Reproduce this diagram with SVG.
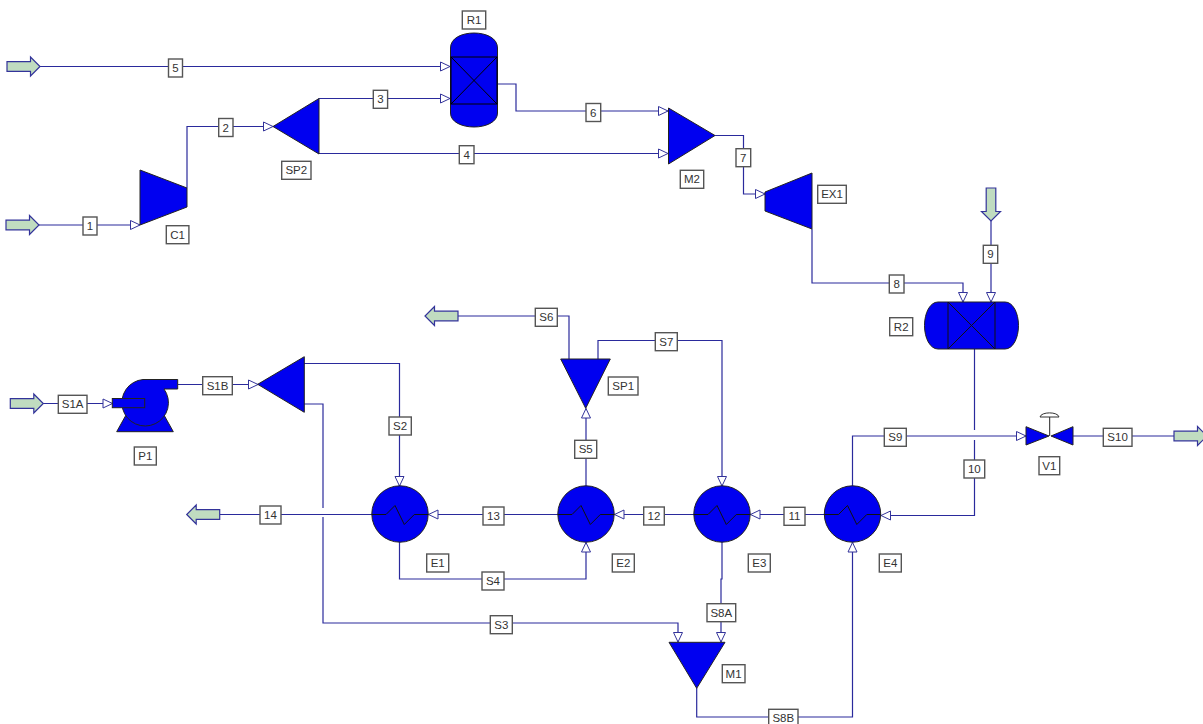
<svg xmlns="http://www.w3.org/2000/svg" width="1203" height="724" viewBox="0 0 1203 724">
<style>
text{font-family:"Liberation Sans",Arial,sans-serif;font-size:11.5px;fill:#333;text-anchor:middle}
.c path{fill:none;stroke:#2a2a9c;stroke-width:1.2}
.u{fill:#0000f0;stroke:#222;stroke-width:1}
.i{fill:none;stroke:#111;stroke-width:1}
.l rect,rect.b{fill:#fff;stroke:#555;stroke-width:1.4}
.f{fill:#c0dcc0;stroke:#33339a;stroke-width:1.2}
</style>
<defs>
<marker id="a" markerUnits="userSpaceOnUse" markerWidth="12" markerHeight="12" refX="10" refY="5" orient="auto" overflow="visible"><path d="M0.5,0.5 L10,5 L0.5,9.5 Z" fill="#fff" stroke="#33339a" stroke-width="1"/></marker>
<path id="fa" class="f" d="M-33,-4.8 H-9.5 V-9.5 L0,0 L-9.5,9.5 V4.8 H-33 Z"/>
<g id="hx"><circle class="u" cx="0" cy="0" r="28.2"/><path class="i" d="M-28.2,0.5 H-14 L-5,-8.5 L4.3,10.5 L14.3,0.5 H28.2"/></g>
</defs>
<rect width="1203" height="724" fill="#fff"/>
<g id="connectors" class="c">
<path d="M40,66.5 H450" marker-end="url(#a)"/>
<path d="M39,225 H140" marker-end="url(#a)"/>
<path d="M187,188 V126.5 H273" marker-end="url(#a)"/>
<path d="M319,98.5 H450" marker-end="url(#a)"/>
<path d="M319,153.5 H668" marker-end="url(#a)"/>
<path d="M497.5,84 H516 V111 H668" marker-end="url(#a)"/>
<path d="M715,135.5 H743.5 V194 H765" marker-end="url(#a)"/>
<path d="M812,229 V283 H963 V302" marker-end="url(#a)"/>
<path d="M991,221 V302" marker-end="url(#a)"/>
<path d="M974.5,349 V430"/>
<path d="M974.5,440 V515.5 H881" marker-end="url(#a)"/>
<path d="M852.5,486 V436 H1026" marker-end="url(#a)"/>
<path d="M1073,436 H1174"/>
<path d="M824,514.5 H750.5" marker-end="url(#a)"/>
<path d="M694,514.5 H614.5" marker-end="url(#a)"/>
<path d="M558,514.5 H428.5" marker-end="url(#a)"/>
<path d="M372,514.5 H220"/>
<path d="M43,403.5 H112.5" marker-end="url(#a)"/>
<path d="M178,384.5 H258" marker-end="url(#a)"/>
<path d="M304,363.5 H399.5 V486" marker-end="url(#a)"/>
<path d="M304,404 H323 V508"/>
<path d="M323,517 V623 H678 V642" marker-end="url(#a)"/>
<path d="M399.5,542 V579 H586 V542.5" marker-end="url(#a)"/>
<path d="M586,486 V408.5" marker-end="url(#a)"/>
<path d="M569,359 V316 H458"/>
<path d="M598,359 V340.5 H722 V486" marker-end="url(#a)"/>
<path d="M722,542 V579 H721 V642" marker-end="url(#a)"/>
<path d="M696.7,688 V717 H852.5 V542.5" marker-end="url(#a)"/>
</g>
<g id="feeds">
<use href="#fa" transform="translate(40,66.5)"/>
<use href="#fa" transform="translate(39,225)"/>
<use href="#fa" transform="translate(43.3,403.5)"/>
<use href="#fa" transform="translate(991,221) rotate(90)"/>
<use href="#fa" transform="translate(1207,436)"/>
<use href="#fa" transform="translate(186.7,514.5) rotate(180)"/>
<use href="#fa" transform="translate(425,316) rotate(180)"/>
</g>
<g id="R1"><path class="u" d="M450.5,48 C450.5,38 462,33 474,33 C486,33 497.5,38 497.5,48 V113 C497.5,122 486,127 474,127 C462,127 450.5,122 450.5,113 Z"/><rect class="b" x="462.3" y="11" width="23.4" height="18"/><text x="474" y="24">R1</text></g>
<g id="C1"><polygon class="u" points="140,170 187,188 187,207 140,225"/><rect class="b" x="166.3" y="225.7" width="22.6" height="18"/><text x="177.6" y="238.7">C1</text></g>
<g id="SP2"><polygon class="u" points="273,126.5 319,98.5 319,154"/><rect class="b" x="281.7" y="161.3" width="29.3" height="18"/><text x="296.3" y="174.3">SP2</text></g>
<g id="M2"><polygon class="u" points="668.5,108 715,135.5 668.5,164"/><rect class="b" x="680.3" y="170.3" width="23.4" height="18"/><text x="692" y="183.3">M2</text></g>
<g id="EX1"><polygon class="u" points="765,192 812,173 812,229 765,211"/><rect class="b" x="817.7" y="185.3" width="28.6" height="18"/><text x="832" y="198.3">EX1</text></g>
<g id="R2"><path class="u" d="M938,302 H1005 C1013,302 1018.5,313 1018.5,325.5 C1018.5,338 1013,349 1005,349 H938 C930,349 924.5,338 924.5,325.5 C924.5,313 930,302 938,302 Z"/><path class="i" d="M948,302 V349 M995,302 V349 M948,302 L995,349 M995,302 L948,349"/><rect class="b" x="889.7" y="317.7" width="23" height="18"/><text x="901.2" y="330.7">R2</text></g>
<g id="V1"><polygon class="u" points="1026,426.7 1049,436 1026,445"/><polygon class="u" points="1073,426.7 1051,436 1073,445"/><path d="M1049.7,436 V417" stroke="#222" fill="none"/><path d="M1040,417 C1041,411.5 1058,411.5 1059,417 Z" fill="#fff" stroke="#333"/><rect class="b" x="1039" y="456.7" width="20.7" height="18"/><text x="1049.3" y="469.7">V1</text></g>
<g id="P1"><polygon class="u" points="116.7,431.7 126,415 164,415 173.3,431.7"/><path class="u" d="M143,379.5 H177.7 V389 H164 A23.3,23.3 0 1 1 143,379.5 Z"/><rect x="112.3" y="398.5" width="32.4" height="9.2" class="u"/><rect class="b" x="134.3" y="447" width="22" height="18"/><text x="145.3" y="460">P1</text></g>
<g id="SP3"><polygon class="u" points="257.7,384.3 304.3,356.7 304.3,412.3"/></g>
<g id="SP1"><polygon class="u" points="560.7,359 610.3,359 585.7,408.3"/><rect class="b" x="608.3" y="377" width="29.7" height="18"/><text x="623.2" y="390">SP1</text></g>
<g id="M1"><polygon class="u" points="669,642.3 725,642.3 696.7,688.3"/><rect class="b" x="722.3" y="664.7" width="22.7" height="18"/><text x="733.6" y="677.7">M1</text></g>
<g id="E1"><use href="#hx" x="400" y="514"/><rect class="b" x="426.7" y="554" width="22" height="18"/><text x="437.7" y="567">E1</text></g>
<g id="E2"><use href="#hx" x="586" y="514"/><rect class="b" x="612.3" y="554" width="22" height="18"/><text x="623.3" y="567">E2</text></g>
<g id="E3"><use href="#hx" x="722" y="514"/><rect class="b" x="748.3" y="554" width="22" height="18"/><text x="759.3" y="567">E3</text></g>
<g id="E4"><use href="#hx" x="852.5" y="514"/><rect class="b" x="879.3" y="554" width="22" height="18"/><text x="890.3" y="567">E4</text></g>
<g id="stream-labels" class="l">
<rect x="168.5" y="59" width="14" height="18"/><text x="175.5" y="72">5</text>
<rect x="83" y="217" width="14" height="18"/><text x="90" y="230">1</text>
<rect x="218.7" y="118.5" width="14.3" height="18"/><text x="225.8" y="131.5">2</text>
<rect x="373.3" y="90.3" width="14.3" height="18"/><text x="380.5" y="103.3">3</text>
<rect x="459.3" y="145.7" width="14.7" height="18"/><text x="466.7" y="158.7">4</text>
<rect x="586" y="103.5" width="14.7" height="18"/><text x="593.3" y="116.5">6</text>
<rect x="736" y="148.7" width="14.7" height="18"/><text x="743.3" y="161.7">7</text>
<rect x="889.3" y="275" width="14.7" height="18"/><text x="896.7" y="288">8</text>
<rect x="983.3" y="245.3" width="14.4" height="18"/><text x="990.5" y="258.3">9</text>
<rect x="964" y="460" width="20.7" height="18"/><text x="974.3" y="473">10</text>
<rect x="784" y="507.3" width="21" height="18"/><text x="794.5" y="520.3">11</text>
<rect x="643.7" y="507" width="20.6" height="18"/><text x="654" y="520">12</text>
<rect x="483" y="507" width="21" height="18"/><text x="493.5" y="520">13</text>
<rect x="260" y="506" width="21" height="18"/><text x="270.5" y="519">14</text>
<rect x="58.3" y="395.3" width="28.7" height="18"/><text x="72.6" y="408.3">S1A</text>
<rect x="202.7" y="376.7" width="29.6" height="18"/><text x="217.5" y="389.7">S1B</text>
<rect x="389" y="417" width="22.3" height="18"/><text x="400.1" y="430">S2</text>
<rect x="490.3" y="615.7" width="22" height="18"/><text x="501.3" y="628.7">S3</text>
<rect x="482" y="572" width="22" height="18"/><text x="493" y="585">S4</text>
<rect x="574.7" y="440.3" width="22" height="18"/><text x="585.7" y="453.3">S5</text>
<rect x="535.3" y="308.3" width="22" height="18"/><text x="546.3" y="321.3">S6</text>
<rect x="655.3" y="332.7" width="22" height="18"/><text x="666.3" y="345.7">S7</text>
<rect x="707" y="603.7" width="28.7" height="18"/><text x="721.3" y="616.7">S8A</text>
<rect x="768.7" y="709.3" width="29.3" height="18"/><text x="783.3" y="722.3">S8B</text>
<rect x="884.3" y="428.3" width="22" height="18"/><text x="895.3" y="441.3">S9</text>
<rect x="1103.3" y="428.3" width="28.7" height="18"/><text x="1117.6" y="441.3">S10</text>
</g>
<g id="R1-bed">
<rect x="451" y="57" width="46" height="47" fill="none" stroke="#000" stroke-width="1"/>
<line x1="451" y1="57" x2="497" y2="104" stroke="#000" stroke-width="1"/>
<line x1="497" y1="57" x2="451" y2="104" stroke="#000" stroke-width="1"/>
</g>
</svg>
